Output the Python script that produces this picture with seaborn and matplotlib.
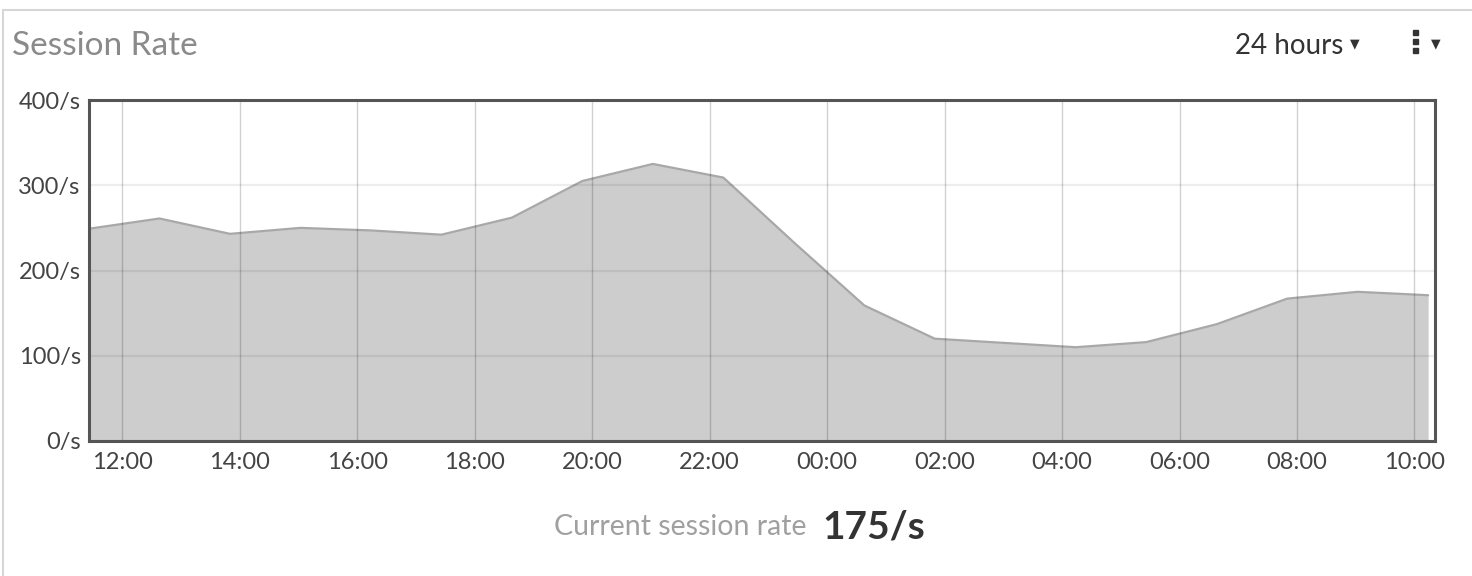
import seaborn as sns
import pandas as pd
import matplotlib.pyplot as plt
import matplotlib.dates as mdates
from matplotlib.lines import Line2D

# session rate samples, one every 72 minutes
start_time = "2023-05-01 11:26"
rates = [249, 261, 243, 250, 247, 242, 262, 305, 325, 309,
         233, 159, 120, 115, 110, 116, 137, 167, 175, 171]
y_ticks = [0, 100, 200, 300, 400]
title = "Session Rate"
range_label = "24 hours"
current_label = "Current session rate"
current_value = "175/s"

times = pd.date_range(start_time, periods=len(rates), freq="72min")
df = pd.DataFrame({"time": times, "rate": rates})

sns.set_theme(style="white")
plt.rcParams['font.family'] = ['Lato', 'DejaVu Sans']

W, H = 1472, 576
fig = plt.figure(figsize=(W / 100, H / 100), dpi=100)
ax = fig.add_axes([89 / W, 135 / H, 1346 / W, 341 / H])

ax.fill_between(df["time"], df["rate"], 0, color="#cdcdcd", lw=0, zorder=1)
sns.lineplot(data=df, x="time", y="rate", ax=ax, color="#a8a8a8", lw=1.6, zorder=2)

ax.set_ylim(0, 400)
ax.set_yticks(y_ticks)
ax.set_yticklabels([f"{v}/s" for v in y_ticks])
ax.set_xlim(df["time"].iloc[0], pd.Timestamp("2023-05-02 10:21"))
ax.xaxis.set_major_locator(mdates.HourLocator(byhour=range(0, 24, 2)))
ax.xaxis.set_major_formatter(mdates.DateFormatter("%H:%M"))
ax.set_xlabel("")
ax.set_ylabel("")

ax.set_axisbelow(False)
ax.xaxis.grid(True, color="black", alpha=0.18, lw=1.0, zorder=3)
ax.yaxis.grid(True, color="black", alpha=0.07, lw=1.6, zorder=3)
ax.tick_params(length=0, labelsize=17, colors="#444444")
ax.tick_params(axis="x", pad=8)
ax.tick_params(axis="y", pad=6)
for s in ax.spines.values():
    s.set_color("#555555")
    s.set_linewidth(2.2)
    s.set_zorder(4)

# card frame
fig.add_artist(Line2D([3 / W, 1], [1 - 10 / H, 1 - 10 / H], color="#d6d6d6", lw=1.5))
fig.add_artist(Line2D([3 / W, 3 / W], [0, 1 - 10 / H], color="#d6d6d6", lw=1.5))

fig.text(12 / W, 1 - 46 / H, title, fontsize=24, color="#8a8a8a", va="center", ha="left")
fig.text(1343 / W, 1 - 46 / H, range_label, fontsize=20, color="#333333", va="center", ha="right")
fig.text(1355 / W, 1 - 44 / H, "\u25BC", fontsize=9, color="#333333", va="center", ha="center",
         family=["DejaVu Sans"])
# kebab menu
fig.add_artist(Line2D([1415 / W] * 3, [1 - 32 / H, 1 - 41 / H, 1 - 50 / H], ls="none",
                      marker="s", markersize=3.6, color="#333333"))
fig.text(1436 / W, 1 - 44 / H, "\u25BC", fontsize=9, color="#333333", va="center", ha="center",
         family=["DejaVu Sans"])

fig.text(806 / W, 1 - 527 / H, current_label, fontsize=20.5, color="#a0a0a0", va="center", ha="right")
fig.text(822 / W, 1 - 527 / H, current_value, fontsize=28, color="#333333", va="center", ha="left",
         fontweight="bold")

fig.savefig("out.png", dpi=100)
